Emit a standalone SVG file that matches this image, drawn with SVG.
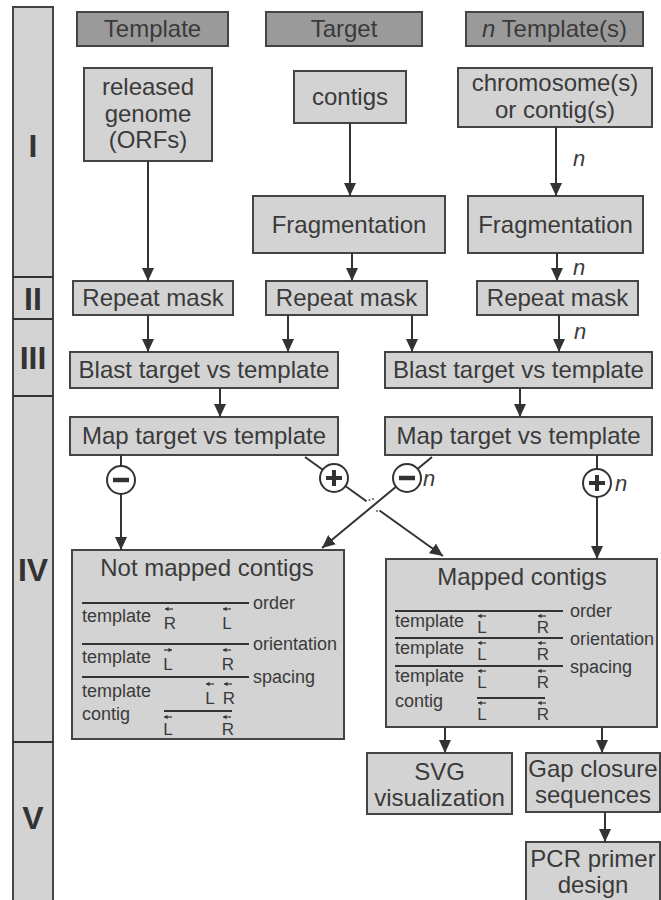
<svg xmlns="http://www.w3.org/2000/svg" width="661" height="900" viewBox="0 0 661 900">
<style>
.box{fill:#d3d3d3;stroke:#444;stroke-width:2}
.hdr{fill:#9a9a9a;stroke:#444;stroke-width:2}
.t{font-family:"Liberation Sans",Arial,sans-serif;font-size:24px;fill:#3a3a3a;text-anchor:middle}
.s{font-family:"Liberation Sans",Arial,sans-serif;font-size:18px;fill:#3a3a3a}
.lr{font-family:"Liberation Sans",Arial,sans-serif;font-size:17px;fill:#3a3a3a;text-anchor:middle}
.n{font-family:"Liberation Sans",Arial,sans-serif;font-size:22px;font-style:italic;fill:#3a3a3a}
.rom{font-family:"Liberation Sans",Arial,sans-serif;font-size:32px;font-weight:bold;fill:#333;text-anchor:middle}
.c{fill:none;stroke:#333;stroke-width:2}
.ln{stroke:#333;stroke-width:2.2}
.sa{fill:none;stroke:#333;stroke-width:1.2}
.circ{fill:#fff;stroke:#333;stroke-width:2}
</style>
<defs>
<marker id="ah" markerWidth="13" markerHeight="13" refX="13" refY="6.5" orient="auto" markerUnits="userSpaceOnUse" viewBox="0 0 13 13">
<path d="M0,0.5 L13,6.5 L0,12.5 z" fill="#333"/>
</marker>
<g id="la"><path d="M0,0 h8" class="sa"/><path d="M0,0 l3.5,-2.2 v4.4 z" fill="#333"/></g>
<g id="ra"><path d="M0,0 h8" class="sa"/><path d="M8,0 l-3.5,-2.2 v4.4 z" fill="#333"/></g>
</defs>

<g id="sidebar">
<rect x="13" y="7" width="40" height="900" class="box"/>
<line x1="13" y1="277" x2="53" y2="277" class="ln"/>
<line x1="13" y1="319" x2="53" y2="319" class="ln"/>
<line x1="13" y1="396" x2="53" y2="396" class="ln"/>
<line x1="13" y1="742" x2="53" y2="742" class="ln"/>
<text x="33" y="157" class="rom">I</text>
<text x="33" y="310" class="rom">II</text>
<text x="33" y="369" class="rom">III</text>
<text x="33" y="581" class="rom">IV</text>
<text x="33" y="829" class="rom">V</text>
</g>

<g id="hdr-template"><rect x="77" y="12" width="151" height="34" class="hdr"/><text x="152.5" y="37" class="t">Template</text></g>
<g id="hdr-target"><rect x="266" y="12" width="156" height="34" class="hdr"/><text x="344" y="37" class="t">Target</text></g>
<g id="hdr-ntemplate"><rect x="466" y="12" width="177" height="34" class="hdr"/><text x="554.5" y="37" class="t"><tspan font-style="italic">n</tspan> Template(s)</text></g>

<g id="released"><rect x="84" y="68" width="128" height="93" class="box"/><text x="148" y="95" class="t">released</text><text x="148" y="122" class="t">genome</text><text x="148" y="148" class="t">(ORFs)</text></g>
<g id="contigs"><rect x="294" y="71" width="112" height="52" class="box"/><text x="350" y="105" class="t">contigs</text></g>
<g id="chrom"><rect x="458" y="68" width="194" height="59" class="box"/><text x="555" y="91" class="t">chromosome(s)</text><text x="555" y="118" class="t">or contig(s)</text></g>

<g id="frag-mid"><rect x="253" y="196" width="192" height="57" class="box"/><text x="349" y="233" class="t">Fragmentation</text></g>
<g id="frag-right"><rect x="468" y="196" width="175" height="57" class="box"/><text x="555.5" y="233" class="t">Fragmentation</text></g>

<g id="rm-left"><rect x="73" y="281" width="160" height="34" class="box"/><text x="153" y="306" class="t">Repeat mask</text></g>
<g id="rm-mid"><rect x="266" y="281" width="161" height="34" class="box"/><text x="346.5" y="306" class="t">Repeat mask</text></g>
<g id="rm-right"><rect x="477" y="281" width="161" height="34" class="box"/><text x="557.5" y="306" class="t">Repeat mask</text></g>

<g id="blast-left"><rect x="70" y="352" width="268" height="36" class="box"/><text x="204" y="378" class="t">Blast target vs template</text></g>
<g id="blast-right"><rect x="385" y="352" width="267" height="36" class="box"/><text x="518.5" y="378" class="t">Blast target vs template</text></g>

<g id="map-left"><rect x="70" y="417" width="268" height="38" class="box"/><text x="204" y="444" class="t">Map target vs template</text></g>
<g id="map-right"><rect x="385" y="417" width="267" height="38" class="box"/><text x="518.5" y="444" class="t">Map target vs template</text></g>

<g id="notmapped">
<rect x="72" y="550" width="272" height="189" class="box"/>
<text x="207" y="576" class="t">Not mapped contigs</text>
<line x1="82" y1="603" x2="249" y2="603" class="ln"/><text x="253" y="609" class="s">order</text>
<text x="82" y="622" class="s">template</text>
<use href="#la" x="165" y="609"/><text x="170" y="629" class="lr">R</text>
<use href="#la" x="223" y="609"/><text x="227" y="629" class="lr">L</text>
<line x1="82" y1="644" x2="249" y2="644" class="ln"/><text x="253" y="650" class="s">orientation</text>
<text x="82" y="663" class="s">template</text>
<use href="#ra" x="164" y="650"/><text x="168" y="670" class="lr">L</text>
<use href="#la" x="223" y="650"/><text x="228" y="670" class="lr">R</text>
<line x1="82" y1="677" x2="249" y2="677" class="ln"/><text x="253" y="683" class="s">spacing</text>
<text x="82" y="697" class="s">template</text>
<use href="#la" x="206" y="684"/><text x="210" y="704" class="lr">L</text>
<use href="#la" x="224" y="684"/><text x="229" y="704" class="lr">R</text>
<text x="82" y="720" class="s">contig</text>
<line x1="164" y1="711" x2="232" y2="711" class="ln"/>
<use href="#la" x="164" y="717"/><text x="168" y="735" class="lr">L</text>
<use href="#la" x="223" y="717"/><text x="228" y="735" class="lr">R</text>
</g>

<g id="mapped">
<rect x="386" y="559" width="271" height="168" class="box"/>
<text x="522" y="585" class="t">Mapped contigs</text>
<line x1="395" y1="611" x2="563" y2="611" class="ln"/><text x="570" y="617" class="s">order</text>
<text x="395" y="627" class="s">template</text>
<use href="#la" x="478" y="616"/><text x="482" y="633" class="lr">L</text>
<use href="#la" x="538" y="616"/><text x="543" y="633" class="lr">R</text>
<line x1="395" y1="638" x2="563" y2="638" class="ln"/><text x="570" y="645" class="s">orientation</text>
<text x="395" y="654" class="s">template</text>
<use href="#la" x="478" y="643"/><text x="482" y="660" class="lr">L</text>
<use href="#la" x="538" y="643"/><text x="543" y="660" class="lr">R</text>
<line x1="395" y1="666" x2="563" y2="666" class="ln"/><text x="570" y="673" class="s">spacing</text>
<text x="395" y="682" class="s">template</text>
<use href="#la" x="478" y="671"/><text x="482" y="688" class="lr">L</text>
<use href="#la" x="538" y="671"/><text x="543" y="688" class="lr">R</text>
<text x="395" y="707" class="s">contig</text>
<line x1="477" y1="698" x2="545" y2="698" class="ln"/>
<use href="#la" x="478" y="703"/><text x="482" y="720" class="lr">L</text>
<use href="#la" x="538" y="703"/><text x="543" y="720" class="lr">R</text>
</g>

<g id="svgvis"><rect x="367" y="753" width="145" height="61" class="box"/><text x="439.5" y="780" class="t">SVG</text><text x="439.5" y="806" class="t">visualization</text></g>
<g id="gap"><rect x="526" y="753" width="134" height="59" class="box"/><text x="593" y="777" class="t">Gap closure</text><text x="593" y="803" class="t">sequences</text></g>
<g id="pcr"><rect x="526" y="842" width="134" height="66" class="box"/><text x="593" y="867" class="t">PCR primer</text><text x="593" y="893" class="t">design</text></g>

<g id="connectors">
<line x1="148" y1="161" x2="148" y2="281" class="c" marker-end="url(#ah)"/>
<line x1="350" y1="123" x2="350" y2="196" class="c" marker-end="url(#ah)"/>
<line x1="556" y1="127" x2="556" y2="196" class="c" marker-end="url(#ah)"/>
<text x="573" y="166" class="n">n</text>
<line x1="352" y1="253" x2="352" y2="281" class="c" marker-end="url(#ah)"/>
<line x1="557" y1="253" x2="557" y2="281" class="c" marker-end="url(#ah)"/>
<text x="573" y="275" class="n">n</text>
<line x1="148" y1="315" x2="148" y2="352" class="c" marker-end="url(#ah)"/>
<line x1="288" y1="315" x2="288" y2="352" class="c" marker-end="url(#ah)"/>
<line x1="412" y1="315" x2="412" y2="352" class="c" marker-end="url(#ah)"/>
<line x1="559" y1="315" x2="559" y2="352" class="c" marker-end="url(#ah)"/>
<text x="574" y="339" class="n">n</text>
<line x1="220" y1="388" x2="220" y2="417" class="c" marker-end="url(#ah)"/>
<line x1="520" y1="388" x2="520" y2="417" class="c" marker-end="url(#ah)"/>

<line x1="121" y1="455" x2="121" y2="550" class="c" marker-end="url(#ah)"/>
<circle cx="121" cy="480" r="14" class="circ"/><line x1="113" y1="480" x2="129" y2="480" stroke="#333" stroke-width="4.5"/>

<path d="M305,457 L366.5,501.2" class="c"/>
<path d="M379.5,510.5 L443,556" class="c" marker-end="url(#ah)"/>
<circle cx="369.5" cy="500" r="0.9" fill="#555"/><circle cx="373" cy="499" r="0.9" fill="#555"/><circle cx="377" cy="511" r="0.9" fill="#555"/>
<circle cx="334" cy="478" r="14" class="circ"/><path d="M326,478 h16 M334,470 v16" stroke="#333" stroke-width="4"/>

<path d="M432,457 L322,548" class="c" marker-end="url(#ah)"/>
<circle cx="407" cy="478" r="14" class="circ"/><line x1="399" y1="478" x2="415" y2="478" stroke="#333" stroke-width="4.5"/>
<text x="423" y="486" class="n">n</text>

<line x1="597" y1="455" x2="597" y2="559" class="c" marker-end="url(#ah)"/>
<circle cx="597" cy="483" r="14" class="circ"/><path d="M589,483 h16 M597,475 v16" stroke="#333" stroke-width="4"/>
<text x="615" y="491" class="n">n</text>

<line x1="445" y1="727" x2="445" y2="753" class="c" marker-end="url(#ah)"/>
<line x1="602" y1="727" x2="602" y2="753" class="c" marker-end="url(#ah)"/>
<line x1="605" y1="812" x2="605" y2="842" class="c" marker-end="url(#ah)"/>
</g>
</svg>
